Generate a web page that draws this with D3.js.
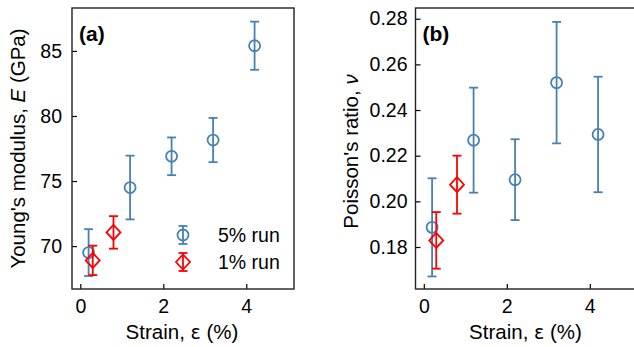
<!DOCTYPE html>
<html>
<head>
<meta charset="utf-8">
<script src="https://cdn.jsdelivr.net/npm/d3@7"></script>
<style>
  body { margin: 0; background: #fff; }
  svg { display: block; font-family: "Liberation Sans", Arial, sans-serif; }
</style>
</head>
<body>
<svg id="chart" width="634" height="347"></svg>
<script>
// strain positions (%)
const strain5 = [0.2, 1.2, 2.2, 3.2, 4.2];
const strain1 = [0.3, 0.8];

// Young's modulus (GPa)
const modulus5 = [69.5, 74.5, 76.9, 78.15, 85.4];
const modulusErr5 = [1.8, 2.45, 1.45, 1.7, 1.85];
const modulus1 = [68.9, 71.05];
const modulusErr1 = [1.13, 1.25];

// Poisson's ratio
const poisson5 = [0.1886, 0.2268, 0.2095, 0.252, 0.2293];
const poissonErr5 = [0.0215, 0.023, 0.0177, 0.0266, 0.0253];
const poisson1 = [0.1829, 0.2073];
const poissonErr1 = [0.0124, 0.0127];

const xTicks = [0, 2, 4];
const modulusTicks = [70, 75, 80, 85];
const poissonTicks = [0.18, 0.20, 0.22, 0.24, 0.26, 0.28];
const legendLabels = ["5% run", "1% run"];

const blue = "#4682b4";
const red = "#ff0000";
const svg = d3.select("#chart");

function drawPanel(opts) {
    const x = d3.scaleLinear().domain([-0.2, 5.15]).range([opts.left, opts.left + 222]);
    const y = d3.scaleLinear().domain(opts.yDomain).range([289, 8]);
    const g = svg.append("g");

    // ticks (inward)
    g.append("g")
        .attr("transform", "translate(0,289)")
        .call(d3.axisBottom(x).tickValues(xTicks).tickSizeInner(-5).tickSizeOuter(0).tickPadding(10).tickFormat(d3.format("d")))
        .call(a => a.select(".domain").remove())
        .call(a => a.selectAll("text").attr("font-size", 19.5).attr("fill", "#000").attr("font-family", null))
        .call(a => a.selectAll("line").attr("stroke", "#000").attr("stroke-width", 1.2));

    g.append("g")
        .attr("transform", `translate(${opts.left},0)`)
        .call(d3.axisLeft(y).tickValues(opts.yTicks).tickSizeInner(-5).tickSizeOuter(0).tickPadding(opts.yPad).tickFormat(opts.yFormat))
        .call(a => a.select(".domain").remove())
        .call(a => a.selectAll("text").attr("font-size", 19.5).attr("fill", "#000").attr("font-family", null))
        .call(a => a.selectAll("line").attr("stroke", "#000").attr("stroke-width", 1.2));

    // frame
    g.append("rect")
        .attr("x", opts.left).attr("y", 8)
        .attr("width", 222).attr("height", 281)
        .attr("fill", "none").attr("stroke", "#222").attr("stroke-width", 1.4);

    // error bars + markers
    const series = [
        { xs: strain5, ys: opts.v5, es: opts.e5, color: blue, shape: "circle" },
        { xs: strain1, ys: opts.v1, es: opts.e1, color: red, shape: "diamond" }
    ];
    series.forEach(s => {
        const pts = s.xs.map((d, i) => ({ x: d, y: s.ys[i], e: s.es[i] }));
        drawPoints(g, pts.map(p => ({ cx: x(p.x), cy: y(p.y), top: y(p.y + p.e), bot: y(p.y - p.e) })), s.color, s.shape);
    });

    // panel tag
    g.append("text")
        .attr("x", opts.left + 7).attr("y", 41)
        .attr("font-size", 21).attr("font-weight", "bold")
        .text(opts.tag);

    // x label
    g.append("text")
        .attr("x", opts.left + 110).attr("y", 339)
        .attr("text-anchor", "middle").attr("font-size", 20.5)
        .html("Strain, <tspan font-family='DejaVu Sans' font-size='19'>ε</tspan> (%)");

    // y label
    g.append("text")
        .attr("transform", `translate(${opts.labelX},${opts.labelY}) rotate(-90)`)
        .attr("text-anchor", "middle").attr("font-size", 20.5)
        .html(opts.yLabel);

    return { x, y, g };
}

function drawPoints(g, pts, color, shape) {
    const cap = 4.5;
    g.selectAll(null).data(pts).join("line")
        .attr("x1", d => d.cx).attr("x2", d => d.cx)
        .attr("y1", d => d.top).attr("y2", d => d.bot)
        .attr("stroke", color).attr("stroke-width", 1.8);
    g.selectAll(null).data(pts.flatMap(d => [d.top, d.bot].map(v => ({ cx: d.cx, v })))).join("line")
        .attr("x1", d => d.cx - cap).attr("x2", d => d.cx + cap)
        .attr("y1", d => d.v).attr("y2", d => d.v)
        .attr("stroke", color).attr("stroke-width", 1.8);
    if (shape === "circle") {
        g.selectAll(null).data(pts).join("circle")
            .attr("cx", d => d.cx).attr("cy", d => d.cy).attr("r", 5.5)
            .attr("fill", "none").attr("stroke", color).attr("stroke-width", 1.8);
    } else {
        g.selectAll(null).data(pts).join("path")
            .attr("d", d => `M${d.cx},${d.cy - 7.5}L${d.cx + 7},${d.cy}L${d.cx},${d.cy + 7.5}L${d.cx - 7},${d.cy}Z`)
            .attr("fill", "none").attr("stroke", color).attr("stroke-width", 1.8);
    }
}

const panelA = drawPanel({
    left: 72, tag: "(a)", yDomain: [66.7, 88.3], yTicks: modulusTicks, yFormat: d3.format("d"), yPad: 10,
    v5: modulus5, e5: modulusErr5, v1: modulus1, e1: modulusErr1, labelX: 25, labelY: 148.5,
    yLabel: "Young's modulus, <tspan font-style='italic'>E</tspan> (GPa)"
});

drawPanel({
    left: 415.5, tag: "(b)", yDomain: [0.1616, 0.2847], yTicks: poissonTicks, yFormat: d3.format(".2f"), yPad: 8,
    v5: poisson5, e5: poissonErr5, v1: poisson1, e1: poissonErr1, labelX: 358, labelY: 151.5,
    yLabel: "Poisson's ratio, <tspan font-style='italic'>ν</tspan>"
});

// legend in panel (a)
const legendY = [235, 262];
const legendColors = [blue, red];
legendLabels.forEach((lab, i) => {
    const cx = 183, cy = legendY[i];
    drawPoints(panelA.g, [{ cx, cy, top: cy - 9, bot: cy + 9 }], legendColors[i], i === 0 ? "circle" : "diamond");
    panelA.g.append("text")
        .attr("x", 218).attr("y", cy + 7)
        .attr("font-size", 19.5)
        .text(lab);
});
</script>
</body>
</html>
